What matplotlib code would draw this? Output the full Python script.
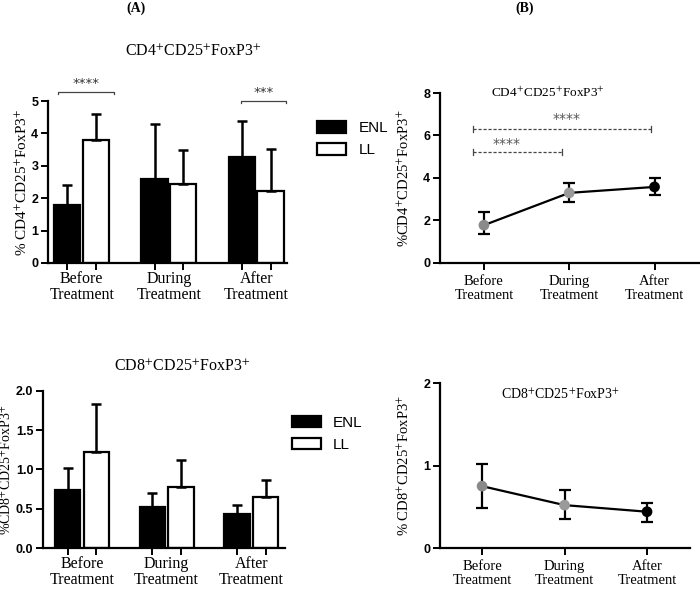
import matplotlib
matplotlib.use('Agg')
import numpy as np
from matplotlib import pyplot as plt
from matplotlib.patches import Patch

plt.rcParams['mathtext.fontset'] = 'stix'
plt.rcParams['axes.linewidth'] = 1.6

serif = 'Liberation Serif'
sans = 'Liberation Sans'

groups = ['Before\nTreatment', 'During\nTreatment', 'After\nTreatment']

# panel A, CD4+CD25+FoxP3+ (mean, upper SD end)
cd4_enl = [1.78, 2.60, 3.28]
cd4_enl_top = [2.42, 4.28, 4.37]
cd4_ll = [3.80, 2.45, 2.22]
cd4_ll_top = [4.60, 3.50, 3.52]

# panel A, CD8+CD25+FoxP3+
cd8_enl = [0.74, 0.52, 0.43]
cd8_enl_top = [1.02, 0.70, 0.55]
cd8_ll = [1.22, 0.78, 0.65]
cd8_ll_top = [1.83, 1.12, 0.87]

# panel B, pooled over time
cd4_mean = [1.78, 3.30, 3.58]
cd4_lo = [1.35, 2.85, 3.20]
cd4_hi = [2.42, 3.75, 4.00]
cd8_mean = [0.75, 0.52, 0.44]
cd8_lo = [0.48, 0.35, 0.32]
cd8_hi = [1.02, 0.70, 0.55]

cd4_lab = 'CD4$^{+}$CD25$^{+}$FoxP3$^{+}$'
cd8_lab = 'CD8$^{+}$CD25$^{+}$FoxP3$^{+}$'

fig = plt.figure(figsize=(7, 5.89), dpi=100)


def style(ax):
    ax.spines['top'].set_visible(False)
    ax.spines['right'].set_visible(False)
    ax.tick_params(axis='both', direction='out', length=5, width=1.4)
    ax.tick_params(axis='y', pad=2)
    for t in ax.get_yticklabels():
        t.set_fontfamily(sans)
        t.set_fontweight('bold')
        t.set_fontsize(9)


def bar_panel(rect, enl, enl_top, ll, ll_top, off, xlim, ylim, yticks, ylabel, yfmt, ysize):
    ax = fig.add_axes(rect)
    x = np.arange(3)
    w = 0.30
    ax.bar(x - off, enl, w, color='black', edgecolor='black', linewidth=1.6)
    ax.bar(x + off, ll, w, color='white', edgecolor='black', linewidth=1.6)
    ax.errorbar(x - off, enl, yerr=[np.zeros(3), np.array(enl_top) - np.array(enl)],
                fmt='none', ecolor='black', elinewidth=1.8, capsize=3.5, capthick=1.8)
    ax.errorbar(x + off, ll, yerr=[np.zeros(3), np.array(ll_top) - np.array(ll)],
                fmt='none', ecolor='black', elinewidth=1.8, capsize=3.5, capthick=1.8)
    ax.set_xlim(*xlim)
    ax.set_ylim(*ylim)
    ax.set_yticks(yticks)
    ax.set_yticklabels([yfmt.format(v) for v in yticks])
    ax.set_xticks(np.concatenate([x - off, x + off]))
    ax.set_xticklabels([])
    ax.set_xticks(x, minor=True)
    ax.set_xticklabels(groups, minor=True, fontfamily=serif, fontsize=11.5, linespacing=1.0)
    ax.tick_params(axis='x', which='minor', length=0, pad=6)
    ax.set_ylabel(ylabel, fontfamily=serif, fontsize=ysize, labelpad=1)
    style(ax)
    return ax


def line_panel(rect, m, lo, hi, xlim, ylim, yticks, ylabel):
    ax = fig.add_axes(rect)
    x = np.arange(3)
    m = np.array(m)
    ax.plot(x, m, color='black', linewidth=1.6, zorder=2)
    ax.errorbar(x, m, yerr=[m - np.array(lo), np.array(hi) - m], fmt='none',
                ecolor='black', elinewidth=1.6, capsize=4, capthick=1.6, zorder=3)
    ax.scatter(x, m, s=45, c=['#8a8a8a', '#9a9a9a', 'black'], zorder=4)
    ax.set_xlim(*xlim)
    ax.set_ylim(*ylim)
    ax.set_yticks(yticks)
    ax.set_xticks(x)
    ax.set_xticklabels(groups, fontfamily=serif, fontsize=10.5, linespacing=1.1)
    ax.set_ylabel(ylabel, fontfamily=serif, fontsize=10.5, labelpad=8)
    style(ax)
    return ax


# (A) top
axA1 = bar_panel([0.0686, 0.5535, 0.341, 0.275], cd4_enl, cd4_enl_top, cd4_ll, cd4_ll_top,
                 0.165, (-0.386, 2.35), (0, 5), [0, 1, 2, 3, 4, 5], '% ' + cd4_lab, '{:d}', 11)
fig.text(0.276, 0.912, cd4_lab, ha='center', va='center', fontfamily=serif, fontsize=11.5)
for (x0, x1, y, s) in [(-0.27, 0.37, 5.28, '****'), (1.83, 2.34, 5.0, '***')]:
    axA1.plot([x0, x0, x1, x1], [y - 0.07, y, y, y - 0.07], color='#444444', lw=0.9, clip_on=False)
    axA1.text((x0 + x1) / 2, y + 0.05, s, ha='center', va='bottom', fontsize=9.5,
              color='#333333', clip_on=False)
axA1.legend(handles=[Patch(facecolor='black', edgecolor='black', lw=1.6, label='ENL'),
                     Patch(facecolor='white', edgecolor='black', lw=1.6, label='LL')],
            loc='upper left', bbox_to_anchor=(1.07, 0.96), frameon=False,
            prop={'family': sans, 'size': 11}, handlelength=1.9, handleheight=0.8,
            handletextpad=0.8, labelspacing=0.5)

# (A) bottom
axA2 = bar_panel([0.0614, 0.0696, 0.346, 0.2666], cd8_enl, cd8_enl_top, cd8_ll, cd8_ll_top,
                 0.17, (-0.46, 2.40), (0, 2.0), [0.0, 0.5, 1.0, 1.5, 2.0], '%' + cd8_lab,
                 '{:.1f}', 10)
fig.text(0.26, 0.377, cd8_lab, ha='center', va='center', fontfamily=serif, fontsize=11.5)
axA2.legend(handles=[Patch(facecolor='black', edgecolor='black', lw=1.6, label='ENL'),
                     Patch(facecolor='white', edgecolor='black', lw=1.6, label='LL')],
            loc='upper left', bbox_to_anchor=(0.97, 0.93), frameon=False,
            prop={'family': sans, 'size': 11}, handlelength=1.9, handleheight=0.8,
            handletextpad=0.8, labelspacing=0.5)

# (B) top
axB1 = line_panel([0.6286, 0.5535, 0.371, 0.2886], cd4_mean, cd4_lo, cd4_hi,
                  (-0.515, 2.53), (0, 8), [0, 2, 4, 6, 8], '%' + cd4_lab)
axB1.text(0.415, 1.0, cd4_lab, transform=axB1.transAxes, ha='center', va='center',
          fontfamily=serif, fontsize=9.5)
for (x0, x1, y, tx, ty) in [(-0.13, 1.96, 6.3, 0.97, 6.8), (-0.13, 0.92, 5.22, 0.27, 5.6)]:
    axB1.plot([x0, x1], [y, y], color='#444444', lw=0.9, ls=(0, (2.5, 1.5)))
    axB1.plot([x0, x0], [y - 0.15, y + 0.15], color='#444444', lw=0.9)
    axB1.plot([x1, x1], [y - 0.15, y + 0.15], color='#444444', lw=0.9)
    axB1.text(tx, ty, '****', ha='center', va='center', fontsize=10, color='#555555')

# (B) bottom
axB2 = line_panel([0.6286, 0.0696, 0.357, 0.280], cd8_mean, cd8_lo, cd8_hi,
                  (-0.51, 2.52), (0, 2), [0, 1, 2], '% ' + cd8_lab)
axB2.text(0.48, 0.927, cd8_lab, transform=axB2.transAxes, ha='center', va='center',
          fontfamily=serif, fontsize=10)

fig.text(0.194, 0.986, '(A)', ha='center', va='center', fontfamily=serif,
         fontweight='bold', fontsize=10)
fig.text(0.75, 0.986, '(B)', ha='center', va='center', fontfamily=serif,
         fontweight='bold', fontsize=10)

plt.savefig('out.png', dpi=100)
